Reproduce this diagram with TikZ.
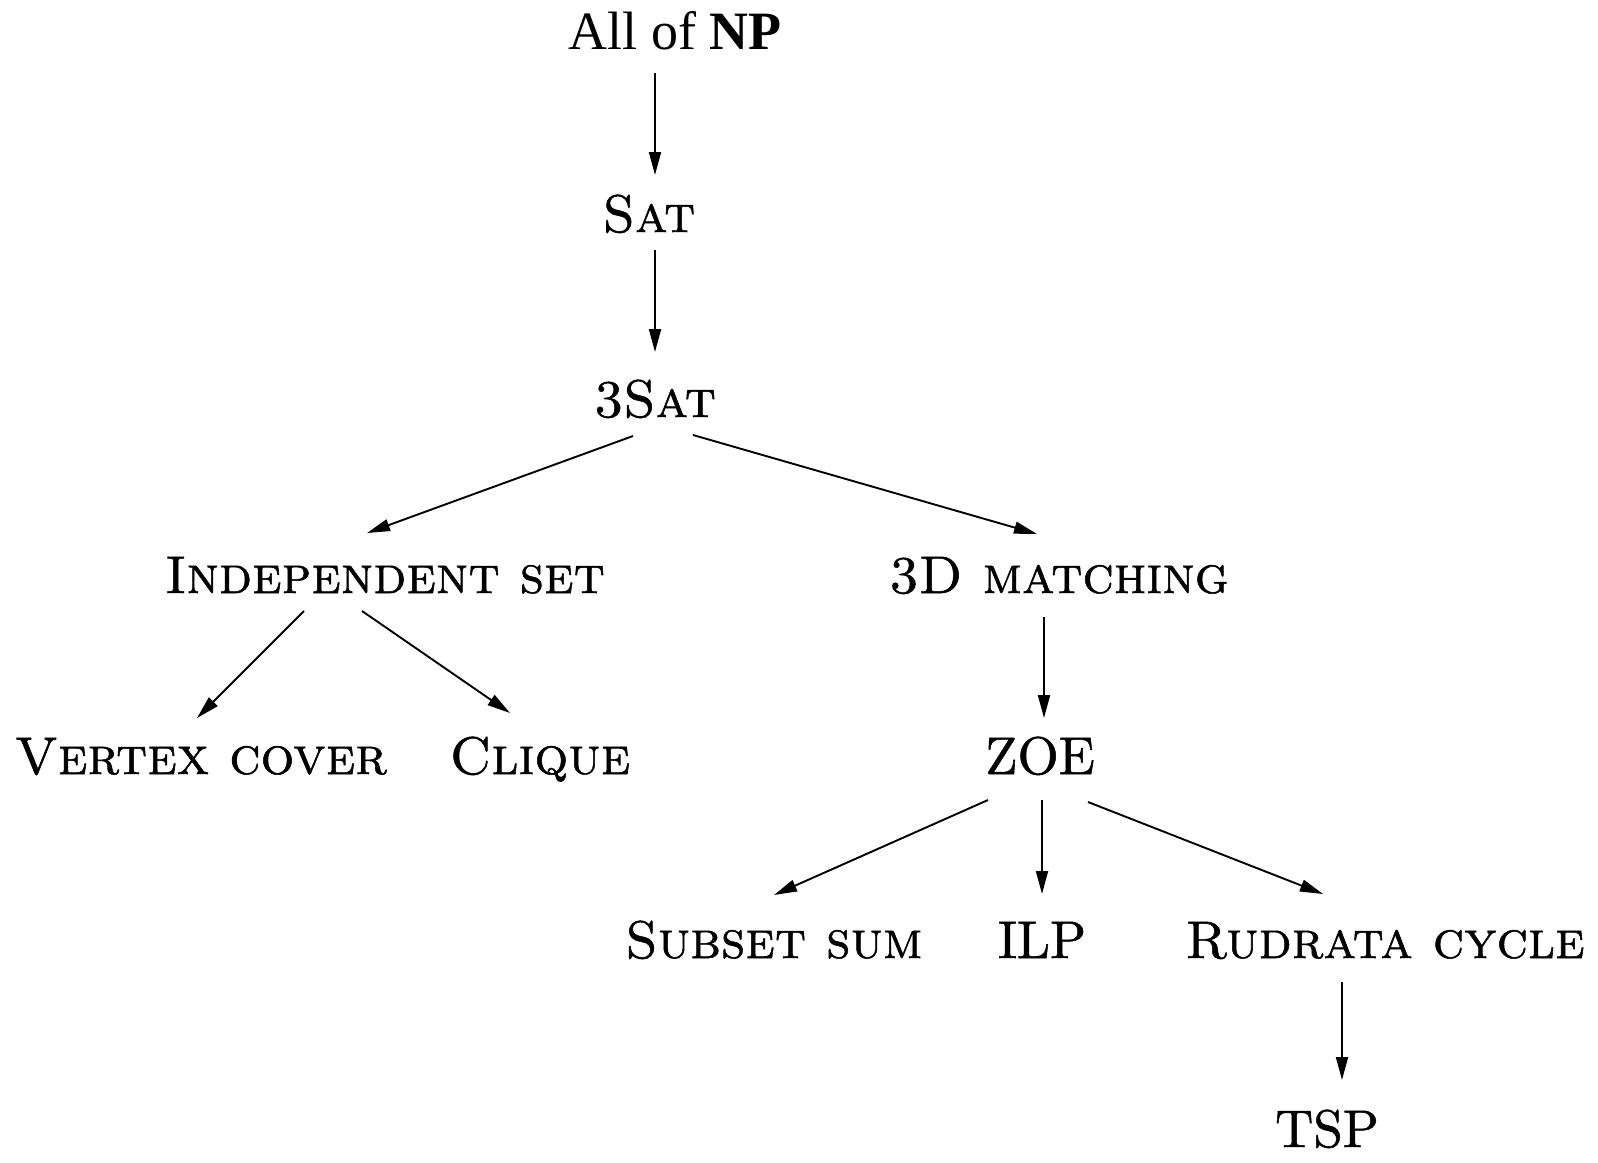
\documentclass[tikz,border=0pt]{standalone}
\usepackage{fontspec}
\newfontfamily\timesfont{Liberation Serif}
\newfontfamily\labrm{lmroman10-regular.otf}[FakeBold=1]
\newfontfamily\labsc{lmromancaps10-regular.otf}[FakeBold=1]
\usetikzlibrary{arrows.meta,calc}
\begin{document}
\begin{tikzpicture}[x=1pt,y=-1pt,
  lbl/.style={anchor=base,inner sep=0pt,font=\labsc\fontsize{53}{60}\selectfont},
  rmlbl/.style={anchor=base,inner sep=0pt,font=\labrm\fontsize{53}{60}\selectfont},
  toplbl/.style={anchor=base,inner sep=0pt,font=\timesfont\fontsize{54}{60}\selectfont},
  arr/.style={line width=1.9pt,-{Triangle[length=23pt,width=12pt]}}]
\useasboundingbox (0,0) rectangle (1598,1162);
\node[toplbl] (np) at (675,49) {All of \textbf{NP}};
\node[lbl] (sat) at (649,232) {Sat};
\node[lbl] (tsat) at (655,417) {3Sat};
\node[lbl] (is) at (385,593) {Independent set};
\node[lbl] (dm) at (1059,593) {3D matching};
\node[lbl] (vc) at (201,774) {Vertex cover};
\node[lbl] (cl) at (540,774) {Clique};
\node[rmlbl] (zoe) at (1040,774) {ZOE};
\node[lbl] (ss) at (774,958) {Subset sum};
\node[rmlbl] (ilp) at (1042,958) {ILP};
\node[lbl] (rc) at (1385,958) {Rudrata cycle};
\node[rmlbl] (tsp) at (1327,1147) {TSP};
\draw[arr] ($(np.base)+(-20,24)$) -- ($(sat.base)+(6,-57)$);
\draw[arr] ($(sat.base)+(6,18)$) -- ($(tsat.base)+(0,-65)$);
\draw[arr] ($(tsat.base)+(-22,19)$) -- ($(is.base)+(-18,-60)$);
\draw[arr] ($(tsat.base)+(38,18)$) -- ($(dm.base)+(-22,-59)$);
\draw[arr] ($(is.base)+(-81,18)$) -- ($(vc.base)+(-4,-56)$);
\draw[arr] ($(is.base)+(-23,18)$) -- ($(cl.base)+(-30,-61)$);
\draw[arr] ($(dm.base)+(-15,24)$) -- ($(zoe.base)+(4,-56)$);
\draw[arr] ($(zoe.base)+(-52,26)$) -- ($(ss.base)+(0,-63)$);
\draw[arr] ($(zoe.base)+(2,26)$) -- ($(ilp.base)+(0,-64)$);
\draw[arr] ($(zoe.base)+(48,28)$) -- ($(rc.base)+(-62,-64)$);
\draw[arr] ($(rc.base)+(-43,24)$) -- ($(tsp.base)+(15,-67)$);
\end{tikzpicture}
\end{document}
